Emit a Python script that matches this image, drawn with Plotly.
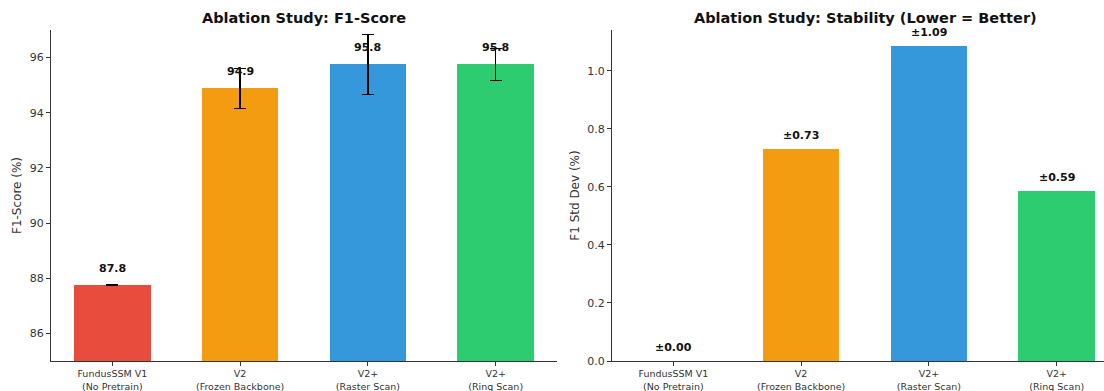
import plotly.graph_objects as go

categories = ["FundusSSM V1<br>(No Pretrain)", "V2<br>(Frozen Backbone)", "V2+<br>(Raster Scan)", "V2+<br>(Ring Scan)"]
f1_mean = [87.76, 94.88, 95.75, 95.75]
f1_std = [0.0, 0.73, 1.085, 0.585]
f1_labels = ["87.8", "94.9", "95.8", "95.8"]
std_labels = ["±0.00", "±0.73", "±1.09", "±0.59"]
colors = ["#e74c3c", "#f39c12", "#3498db", "#2ecc71"]

W, H = 1104, 391
FONT = "DejaVu Sans"
xpos = list(range(len(categories)))

fig = go.Figure()
fig.add_trace(go.Bar(
    x=xpos, y=f1_mean, width=0.6, marker=dict(color=colors, line=dict(width=0)),
    error_y=dict(type="data", array=f1_std, color="black", thickness=1.4, width=6),
    xaxis="x", yaxis="y", showlegend=False, hoverinfo="skip"))
fig.add_trace(go.Bar(
    x=xpos, y=f1_std, width=0.6, marker=dict(color=colors, line=dict(width=0)),
    xaxis="x2", yaxis="y2", showlegend=False, hoverinfo="skip"))

for i in xpos:
    fig.add_annotation(x=i, y=f1_mean[i], xref="x", yref="y", text="<b>%s</b>" % f1_labels[i],
                       showarrow=False, yanchor="bottom", yshift=8,
                       font=dict(family=FONT, size=11, color="#111"))
    fig.add_annotation(x=i, y=f1_std[i], xref="x2", yref="y2", text="<b>%s</b>" % std_labels[i],
                       showarrow=False, yanchor="bottom", yshift=5,
                       font=dict(family=FONT, size=11, color="#111"))

ydom = [1 - 361 / H, 1 - 30 / H]
axis_common = dict(showgrid=False, zeroline=False, showline=True, linecolor="#333", linewidth=1,
                   ticks="outside", ticklen=4, tickcolor="#333", automargin=False,
                   tickfont=dict(family=FONT, size=11, color="#333"))
xcommon = dict(axis_common, tickmode="array", tickvals=xpos, ticktext=categories,
               tickfont=dict(family=FONT, size=9.5, color="#333"))

fig.update_layout(
    template="none",
    width=W, height=H, margin=dict(l=0, r=0, t=0, b=0, autoexpand=False),
    paper_bgcolor="white", plot_bgcolor="white", bargap=0,
    xaxis=dict(xcommon, domain=[51 / W, 557 / W], range=[-0.48, 3.48], anchor="y"),
    yaxis=dict(axis_common, domain=ydom, range=[85, 97], tickvals=[86, 88, 90, 92, 94, 96], anchor="x",
               title=dict(text="F1-Score (%)", font=dict(family=FONT, size=12, color="#333"), standoff=5)),
    xaxis2=dict(xcommon, domain=[612 / W, 1.0], range=[-0.48, 3.37], anchor="y2"),
    yaxis2=dict(axis_common, domain=ydom, range=[0, 1.141], tickvals=[0, 0.2, 0.4, 0.6, 0.8, 1.0],
                tickformat=".1f", anchor="x2",
                title=dict(text="F1 Std Dev (%)", font=dict(family=FONT, size=12, color="#333"), standoff=5)),
)

fig.add_annotation(x=304 / W, y=1 - 18 / H, xref="paper", yref="paper", showarrow=False,
                   xanchor="center", yanchor="middle",
                   text="<b>Ablation Study: F1-Score</b>", font=dict(family=FONT, size=14.5, color="#111"))
fig.add_annotation(x=865 / W, y=1 - 18 / H, xref="paper", yref="paper", showarrow=False,
                   xanchor="center", yanchor="middle",
                   text="<b>Ablation Study: Stability (Lower = Better)</b>",
                   font=dict(family=FONT, size=14.5, color="#111"))

fig.write_html("out.html", config={"displayModeBar": False},
               post_script="document.body.style.margin='0';document.body.style.padding='0';"
                           "document.body.style.overflow='hidden';")
